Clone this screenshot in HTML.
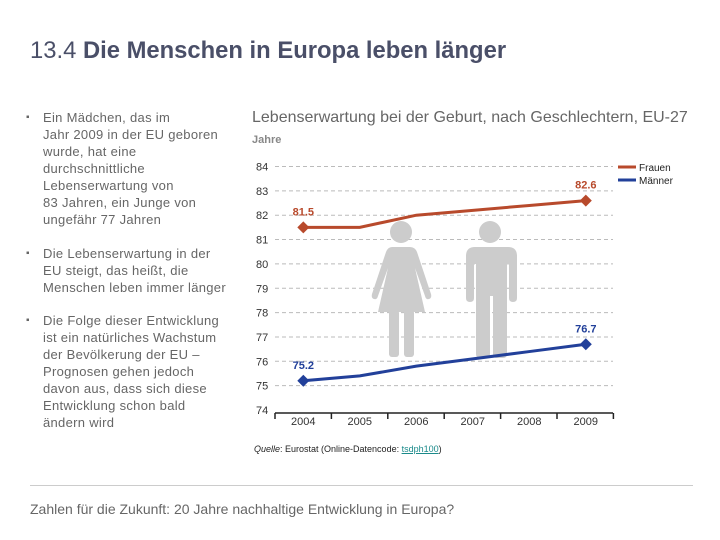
<!DOCTYPE html>
<html><head><meta charset="utf-8"><style>
body{margin:0;width:720px;height:540px;background:#fff;font-family:"Liberation Sans",sans-serif;position:relative;overflow:hidden}
.abs{position:absolute}
.title{left:30px;top:37px;font-size:23.8px;color:#4a4f68;white-space:nowrap}
.bul{left:26px;font-size:13px;letter-spacing:0.3px;color:#666;line-height:17px;width:225px;white-space:nowrap}
.bul span.d{position:absolute;left:0;top:0;font-size:10px}
.bul div{margin-left:17px}
</style></head><body>
<div class="abs title">13.4 <b>Die Menschen in Europa leben länger</b></div>
<div class="abs bul" style="top:109px"><span class="d">▪</span><div>Ein Mädchen, das im<br>Jahr 2009 in der EU geboren<br>wurde, hat eine<br>durchschnittliche<br>Lebenserwartung von<br>83 Jahren, ein Junge von<br>ungefähr 77 Jahren</div></div>
<div class="abs bul" style="top:245px"><span class="d">▪</span><div>Die Lebenserwartung in der<br>EU steigt, das heißt, die<br>Menschen leben immer länger</div></div>
<div class="abs bul" style="top:312px"><span class="d">▪</span><div>Die Folge dieser Entwicklung<br>ist ein natürliches Wachstum<br>der Bevölkerung der EU –<br>Prognosen gehen jedoch<br>davon aus, dass sich diese<br>Entwicklung schon bald<br>ändern wird</div></div>
<div class="abs" style="left:252px;top:109px;font-size:16px;color:#666;white-space:nowrap">Lebenserwartung bei der Geburt, nach Geschlechtern, EU-27</div>
<svg class="abs" style="left:0;top:0" width="720" height="540" id="chart"></svg>
<div class="abs" style="left:254px;top:444px;font-size:9px;color:#222"><i>Quelle</i>: Eurostat (Online-Datencode: <span style="color:#1a8a8a;text-decoration:underline">tsdph100</span>)</div>
<div class="abs" style="left:30px;top:485px;width:663px;height:1px;background:#ccc"></div>
<div class="abs" style="left:30px;top:501px;font-size:14px;color:#666">Zahlen für die Zukunft: 20 Jahre nachhaltige Entwicklung in Europa?</div>
<script>
const years=["2004","2005","2006","2007","2008","2009"];
const frauen=[81.5,81.5,82.0,82.2,82.4,82.6];
const maenner=[75.2,75.4,75.8,76.1,76.4,76.7];
const yTicks=[74,75,76,77,78,79,80,81,82,83,84];
const NS="http://www.w3.org/2000/svg";
const svg=document.getElementById('chart');
const x=i=>303.3+i*56.5;
const y=v=>410-(v-74)*24.35;
function mk(t,a,p){const e=document.createElementNS(NS,t);for(const k in a)e.setAttribute(k,a[k]);(p||svg).appendChild(e);return e;}
const tx=mk('text',{x:252,y:143,'font-size':11,'font-weight':'bold',fill:'#888'});tx.textContent='Jahre';


yTicks.forEach(v=>{
 if(v>74){const l=mk('line',{x1:275,x2:613,y1:y(v),y2:y(v),stroke:'#bbb','stroke-dasharray':'4,3'});
 
 }
 const t=mk('text',{x:256,y:y(v)+4,'font-size':11,fill:'#333'});t.textContent=v;
 
 
});
const g=mk('g',{fill:'#ccc'});


mk('circle',{cx:401,cy:232,r:11},g);
mk('path',{d:'M392 247 h18 q5 0 7 5 l14 42 q1 4 -2 5 q-3 1 -4 -3 l-10 -28 l10 44 h-47 l10 -44 l-10 28 q-1 4 -4 3 q-3 -1 -2 -5 l14 -42 q2 -5 6 -5z'},g);
mk('rect',{x:389,y:310,width:10,height:47,rx:3},g);
mk('rect',{x:404,y:310,width:10,height:47,rx:3},g);
mk('circle',{cx:490,cy:232,r:11},g);
mk('path',{d:'M472 247 h36 q9 0 9 9 v42 q0 4 -4 4 q-4 0 -4 -4 v-34 h-2 v90 q0 4 -4 4 h-6 q-4 0 -4 -4 v-58 h-3 v58 q0 4 -4 4 h-6 q-4 0 -4 -4 v-90 h-2 v34 q0 4 -4 4 q-4 0 -4 -4 v-42 q0 -9 9 -9z'},g);
mk('line',{x1:275,x2:613,y1:413,y2:413,stroke:'#222','stroke-width':1.5});
for(let i=0;i<=6;i++)mk('line',{x1:275+i*56.4,x2:275+i*56.4,y1:413,y2:419,stroke:'#222','stroke-width':1.5});
years.forEach((yr,i)=>{const t=mk('text',{x:x(i),y:425,'font-size':11,fill:'#333','text-anchor':'middle'});t.textContent=yr;

});
function series(vals,col,name){
 const p=mk('polyline',{points:vals.map((v,i)=>x(i)+','+y(v)).join(' '),fill:'none',stroke:col,'stroke-width':3});
 
 
 [0,vals.length-1].forEach(i=>{
  const cx=x(i),cy=y(vals[i]);
  const d=mk('path',{d:`M${cx} ${cy-6} L${cx+6} ${cy} L${cx} ${cy+6} L${cx-6} ${cy}Z`,fill:col});
  
  
  const t=mk('text',{x:cx,y:cy-12,'font-size':11,'font-weight':'bold',fill:col,'text-anchor':'middle'});t.textContent=vals[i].toFixed(1);
  
  
 });
}
series(frauen,'#b84a2c','frauen');
series(maenner,'#22409a','maenner');
[['Frauen','#b84a2c',167],['Männer','#22409a',180]].forEach(([n,c,yy])=>{
 const l=mk('line',{x1:618,x2:636,y1:yy,y2:yy,stroke:c,'stroke-width':3});
 
 
 const t=mk('text',{x:639,y:yy+4,'font-size':10,fill:'#222'});t.textContent=n;
 
 
});
</script>
</body></html>
